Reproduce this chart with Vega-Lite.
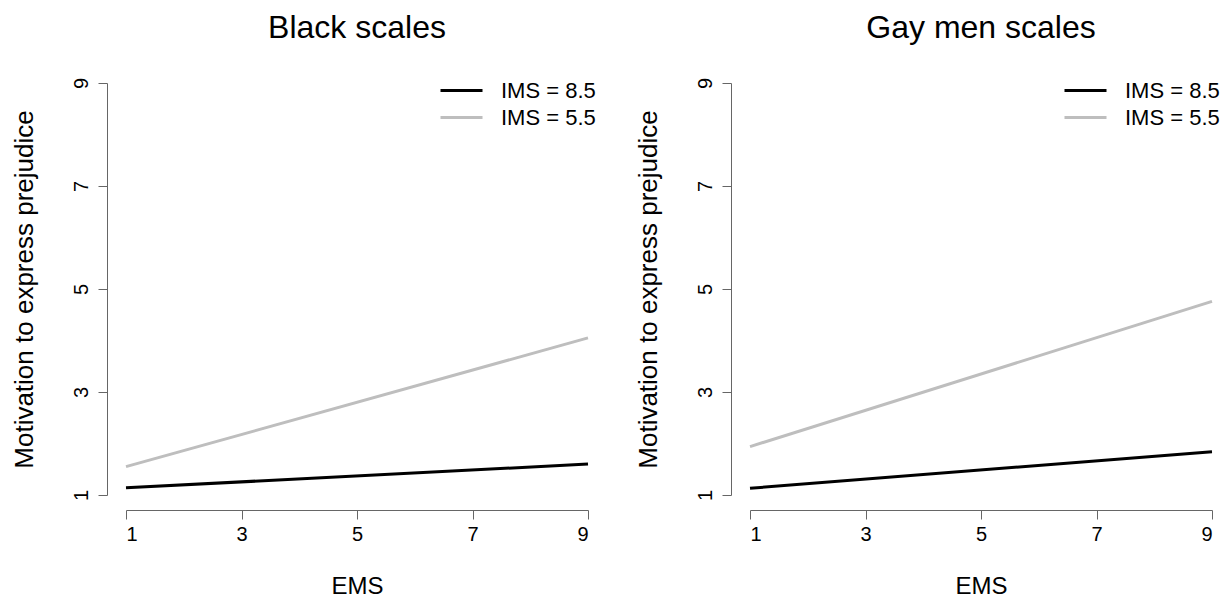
{
  "$schema": "https://vega.github.io/schema/vega-lite/v6.json",
  "background": "white",
  "padding": {"left": 11, "top": 12, "right": 5, "bottom": 0},
  "datasets": {
    "lines": [
      {"panel": "Black scales", "ems": 1, "ims": "IMS = 8.5", "value": 1.14},
      {"panel": "Black scales", "ems": 9, "ims": "IMS = 8.5", "value": 1.60},
      {"panel": "Black scales", "ems": 1, "ims": "IMS = 5.5", "value": 1.55},
      {"panel": "Black scales", "ems": 9, "ims": "IMS = 5.5", "value": 4.05},
      {"panel": "Gay men scales", "ems": 1, "ims": "IMS = 8.5", "value": 1.13},
      {"panel": "Gay men scales", "ems": 9, "ims": "IMS = 8.5", "value": 1.84},
      {"panel": "Gay men scales", "ems": 1, "ims": "IMS = 5.5", "value": 1.94},
      {"panel": "Gay men scales", "ems": 9, "ims": "IMS = 5.5", "value": 4.76}
    ]
  },
  "config": {
    "font": "Liberation Sans",
    "view": {"stroke": null},
    "title": {"fontSize": 32, "fontWeight": "normal", "color": "black", "baseline": "alphabetic", "offset": 32, "anchor": "middle"},
    "axis": {
      "grid": false,
      "domainColor": "#666666",
      "tickColor": "#666666",
      "tickSize": 9,
      "labelFontSize": 20,
      "labelColor": "black",
      "titleFontSize": 26,
      "titleFontWeight": "normal",
      "titleColor": "black"
    },
    "legend": {
      "labelFontSize": 22,
      "labelColor": "black",
      "symbolType": "stroke",
      "symbolSize": 1764,
      "symbolStrokeWidth": 3,
      "labelOffset": 17,
      "clipHeight": 27,
      "rowPadding": 0,
      "padding": 0
    }
  },
  "spacing": 162,
  "bounds": "flush",
  "resolve": {"scale": {"color": "independent"}, "legend": {"color": "independent"}},
  "hconcat": [
    {
      "title": "Black scales",
      "width": 462,
      "height": 412,
      "data": {"name": "lines"},
      "transform": [{"filter": "datum.panel === 'Black scales'"}],
      "mark": {"type": "line", "strokeWidth": 3, "clip": false},
      "encoding": {
        "x": {"field": "ems", "type": "quantitative", "scale": {"domain": [1, 9], "nice": false, "zero": false},
              "axis": {"title": "EMS", "titleFontSize": 24, "values": [1, 3, 5, 7, 9], "offset": 15, "labelPadding": 5, "titlePadding": 30}},
        "y": {"field": "value", "type": "quantitative", "scale": {"domain": [1, 9], "nice": false, "zero": false},
              "axis": {"title": "Motivation to express prejudice", "values": [1, 3, 5, 7, 9], "offset": 19, "labelAngle": -90, "labelAlign": "center", "labelBaseline": "alphabetic", "labelPadding": 11, "titlePadding": 34}},
        "color": {"field": "ims", "type": "nominal", "sort": ["IMS = 8.5", "IMS = 5.5"],
                  "scale": {"domain": ["IMS = 8.5", "IMS = 5.5"], "range": ["#000000", "#bebebe"]},
                  "legend": {"title": null, "orient": "none", "legendX": 313, "legendY": -6}}
      }
    },
    {
      "title": "Gay men scales",
      "width": 462,
      "height": 412,
      "data": {"name": "lines"},
      "transform": [{"filter": "datum.panel === 'Gay men scales'"}],
      "mark": {"type": "line", "strokeWidth": 3, "clip": false},
      "encoding": {
        "x": {"field": "ems", "type": "quantitative", "scale": {"domain": [1, 9], "nice": false, "zero": false},
              "axis": {"title": "EMS", "titleFontSize": 24, "values": [1, 3, 5, 7, 9], "offset": 15, "labelPadding": 5, "titlePadding": 30}},
        "y": {"field": "value", "type": "quantitative", "scale": {"domain": [1, 9], "nice": false, "zero": false},
              "axis": {"title": "Motivation to express prejudice", "values": [1, 3, 5, 7, 9], "offset": 19, "labelAngle": -90, "labelAlign": "center", "labelBaseline": "alphabetic", "labelPadding": 11, "titlePadding": 34}},
        "color": {"field": "ims", "type": "nominal", "sort": ["IMS = 8.5", "IMS = 5.5"],
                  "scale": {"domain": ["IMS = 8.5", "IMS = 5.5"], "range": ["#000000", "#bebebe"]},
                  "legend": {"title": null, "orient": "none", "legendX": 313, "legendY": -6}}
      }
    }
  ]
}
